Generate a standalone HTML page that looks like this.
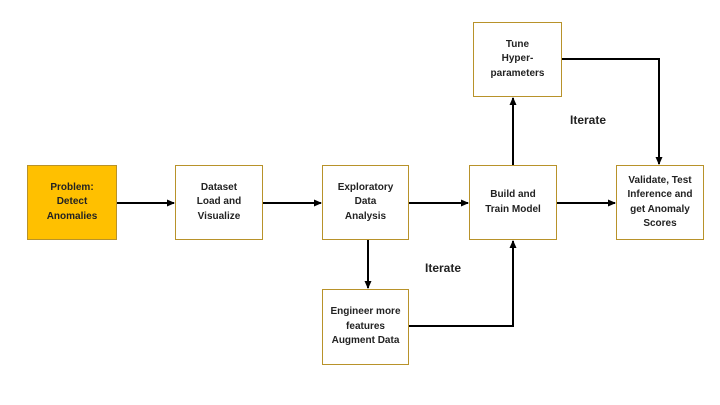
<!DOCTYPE html>
<html><head><style>
body{margin:0;width:720px;height:405px;background:#fff;position:relative;overflow:hidden;font-family:"Liberation Sans",sans-serif;}
.b{position:absolute;box-sizing:border-box;border:1.5px solid #b8922a;background:#fff;display:flex;align-items:center;justify-content:center;text-align:center;font-size:10px;font-weight:bold;line-height:14.5px;color:#222;}
.t{position:absolute;font-size:12px;font-weight:bold;color:#222;}
</style></head><body>
<svg width="720" height="405" style="position:absolute;left:0;top:0">
<defs><marker id="a" markerWidth="8" markerHeight="8" refX="7" refY="4" orient="auto" markerUnits="userSpaceOnUse"><path d="M0,0.5 L8,4 L0,7.5z" fill="#000"/></marker></defs>
<g stroke="#000" stroke-width="2" fill="none">
<line x1="117" y1="203" x2="174" y2="203" marker-end="url(#a)"/>
<line x1="263" y1="203" x2="321" y2="203" marker-end="url(#a)"/>
<line x1="409" y1="203" x2="468" y2="203" marker-end="url(#a)"/>
<line x1="557" y1="203" x2="615" y2="203" marker-end="url(#a)"/>
<line x1="513" y1="165" x2="513" y2="98" marker-end="url(#a)"/>
<polyline points="562,59 659,59 659,164" marker-end="url(#a)"/>
<line x1="368" y1="240" x2="368" y2="288" marker-end="url(#a)"/>
<polyline points="409,326 513,326 513,241" marker-end="url(#a)"/>
</g></svg>
<div class="b" style="left:27px;top:165px;width:90px;height:75px;background:#ffc000">Problem:<br>Detect<br>Anomalies</div>
<div class="b" style="left:175px;top:165px;width:88px;height:75px">Dataset<br>Load and<br>Visualize</div>
<div class="b" style="left:322px;top:165px;width:87px;height:75px">Exploratory<br>Data<br>Analysis</div>
<div class="b" style="left:469px;top:165px;width:88px;height:75px">Build and<br>Train Model</div>
<div class="b" style="left:616px;top:165px;width:88px;height:75px">Validate, Test<br>Inference and<br>get Anomaly<br>Scores</div>
<div class="b" style="left:473px;top:22px;width:89px;height:75px">Tune<br>Hyper-<br>parameters</div>
<div class="b" style="left:322px;top:289px;width:87px;height:76px">Engineer more<br>features<br>Augment Data</div>
<div class="t" style="left:570px;top:113px">Iterate</div>
<div class="t" style="left:425px;top:261px">Iterate</div>
</body></html>
